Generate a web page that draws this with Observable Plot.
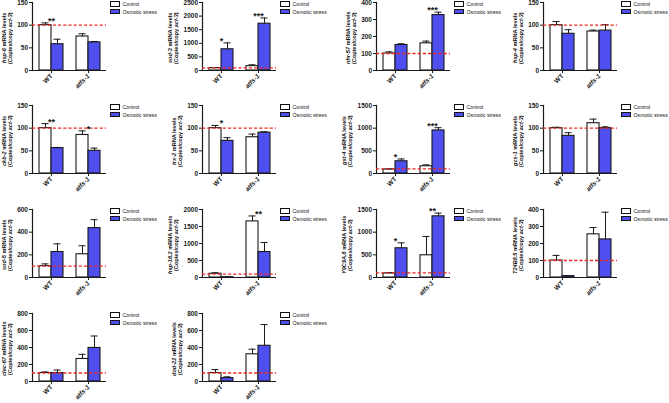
<!DOCTYPE html>
<html><head><meta charset="utf-8">
<script src="https://cdn.jsdelivr.net/npm/d3@7"></script>
<script src="https://cdn.jsdelivr.net/npm/@observablehq/plot@0.6"></script>
<style>
body{margin:0;background:#fff;}
#fig{position:relative;width:669px;height:403px;overflow:hidden;font-family:"Liberation Sans",Arial,sans-serif;color:#111;}
#fig svg{position:absolute;overflow:visible;}
.ylab{position:absolute;writing-mode:vertical-rl;transform:rotate(180deg);text-align:center;font-size:5.6px;font-weight:bold;line-height:6px;white-space:nowrap;}
.leg{position:absolute;font-size:5.2px;line-height:7.5px;white-space:nowrap;}
.leg .sw{display:inline-block;width:8px;height:3.5px;border:1px solid #111;vertical-align:middle;margin-right:2.5px;position:relative;top:-0.5px}
</style></head><body><div id="fig"></div>
<script>
// ---- data ----
const groups = ["WT", "atfs-1"];
const conditions = ["Control", "Osmotic stress"];
const genes = ["hsp-6","sod-3","nhr-57","hsp-4","ckb-2","trx-2","gst-4","gcs-1","sod-5","hsp-16.2","Y9C9A.8","T24B8.5","clec-67","dod-22"];
const yMax  = [150, 2500, 400, 150, 150, 150, 1500, 150, 600, 2000, 1500, 400, 800, 800];
const yStep = [50, 500, 100, 50, 50, 50, 500, 50, 200, 500, 500, 100, 200, 200];
const refLevel = 100;
// [WT, atfs-1]
const controlMean = [[100,75],[90,160],[100,160],[100,86],[100,85],[100,80],[90,160],[100,111],[100,205],[110,1650],[90,490],[100,254],[100,265],[100,320]];
const controlErr  = [[5,6],[15,50],[10,13],[8,3],[10,9],[6,7],[10,30],[2,9],[20,75],[30,160],[20,415],[30,40],[12,55],[40,60]];
const stressMean  = [[58,62],[780,1720],[150,326],[81,88],[56,50],[72,90],[270,950],[83,100],[225,436],[8,750],[645,1350],[8,224],[100,395],[40,420]];
const stressErr   = [[11,2],[235,210],[7,17],[9,13],[1.5,6],[7,2],[50,60],[7,3],[72,74],[3,280],[120,70],[3,160],[35,140],[15,250]];
const stars = [["**",""],["*","***"],["","***"],["",""],["**","*"],["*",""],["*","***"],["",""],["",""],["","**"],["*","**"],["",""],["",""],["",""]];

// ---- layout ----
const colAxisX = [32, 202, 376, 543];
const rowBottom = [70, 173, 277, 381];
const AX_W = 74, AX_H = 68;
const ML = 36, MR = 6, MT = 8, MB = 28;
const BW = 24, STEP = 37;
const PI = 1 - BW / STEP, PO = PI / 2;
const HALF = BW / 2;
const CAP = 7;
const BLUE = "#4f4ff0";
const INK = "#1a1a1a";
const FONT = "'Liberation Sans', Arial, sans-serif";

const fig = document.getElementById("fig");
const ctx = document.createElement("canvas").getContext("2d");
ctx.font = "bold 6.5px 'Liberation Sans'";

genes.forEach((gene, i) => {
  const row = Math.floor(i / 4), col = i % 4;
  const axX = colAxisX[col], axB = rowBottom[row], axT = axB - AX_H;
  const rows = groups.map((g, j) => ({
    group: g,
    ctrl: controlMean[i][j], ctrlErr: controlErr[i][j],
    stress: stressMean[i][j], stressErr: stressErr[i][j],
    star: stars[i][j]
  }));
  const ticks = d3.range(0, yMax[i] + 1e-9, yStep[i]);
  const svg = Plot.plot({
    width: ML + AX_W + MR, height: MT + AX_H + MB,
    marginLeft: ML, marginRight: MR, marginTop: MT, marginBottom: MB,
    style: {fontFamily: FONT, fontSize: "6.5px", fontWeight: "bold", background: "transparent", color: INK},
    x: {type: "band", domain: groups, paddingInner: PI, paddingOuter: PO, align: 0.5},
    y: {domain: [0, yMax[i]]},
    marks: [
      Plot.barY(rows, {x: "group", y: "ctrl", insetRight: HALF, fill: "white", stroke: INK, strokeWidth: 1.1}),
      Plot.barY(rows, {x: "group", y: "stress", insetLeft: HALF, fill: BLUE, stroke: INK, strokeWidth: 1.1}),
      Plot.ruleX(rows, {x: "group", y1: "ctrl", y2: d => d.ctrl + d.ctrlErr, dx: -HALF / 2, stroke: INK, strokeWidth: 1}),
      Plot.tickY(rows, {x: "group", y: d => d.ctrl + d.ctrlErr, insetLeft: HALF / 2 - CAP / 2, insetRight: BW - HALF / 2 - CAP / 2, stroke: INK, strokeWidth: 1}),
      Plot.ruleX(rows, {x: "group", y1: "stress", y2: d => d.stress + d.stressErr, dx: HALF / 2, stroke: INK, strokeWidth: 1}),
      Plot.tickY(rows, {x: "group", y: d => d.stress + d.stressErr, insetLeft: HALF + HALF / 2 - CAP / 2, insetRight: HALF / 2 - CAP / 2, stroke: INK, strokeWidth: 1}),
      Plot.ruleY([0], {stroke: INK, strokeWidth: 1.2}),
      Plot.frame({anchor: "left", stroke: INK, strokeWidth: 1.2}),
      Plot.ruleY([refLevel], {stroke: "#ee2a24", strokeWidth: 1.3, strokeDasharray: "3.2,2"}),
      Plot.axisY({ticks, tickSize: 3, tickPadding: 1.5, tickFormat: d => String(d), label: null}),
      Plot.axisX({tickRotate: -45, tickSize: 3, tickPadding: 1.5, label: null, fontSize: 6.5}),
      Plot.text(rows.filter(d => d.star), {x: "group", y: d => Math.max(d.ctrl + d.ctrlErr, d.stress + d.stressErr), text: "star", lineAnchor: "bottom", dy: 1, fontSize: 9, fontWeight: "bold"})
    ]
  });
  svg.style.left = (axX - ML) + "px";
  svg.style.top = (axT - MT) + "px";
  svg.querySelectorAll("text").forEach(t => { if (t.textContent === "atfs-1") t.setAttribute("font-style", "italic"); });
  fig.appendChild(svg);

  // y label
  const tw = ctx.measureText(String(yMax[i])).width;
  const right = axX - 3 - 1.5 - tw - 4;
  const lab = document.createElement("div");
  lab.className = "ylab";
  lab.style.left = (right - 12) + "px";
  lab.style.top = (axT + 2) + "px";
  lab.style.height = AX_H + "px";
  lab.style.width = "12px";
  lab.innerHTML = `<i>${gene}</i> mRNA levels<br>(Copies/copy <i>act-3</i>)`;
  fig.appendChild(lab);

  // legend
  const leg = document.createElement("div");
  leg.className = "leg";
  leg.style.left = (axX + AX_W + 4) + "px";
  leg.style.top = (axT - 1) + "px";
  leg.innerHTML = conditions.map((c, k) =>
    `<div><span class="sw" style="background:${k ? BLUE : "#fff"}"></span>${c}</div>`).join("");
  fig.appendChild(leg);
});
</script>
</body></html>
